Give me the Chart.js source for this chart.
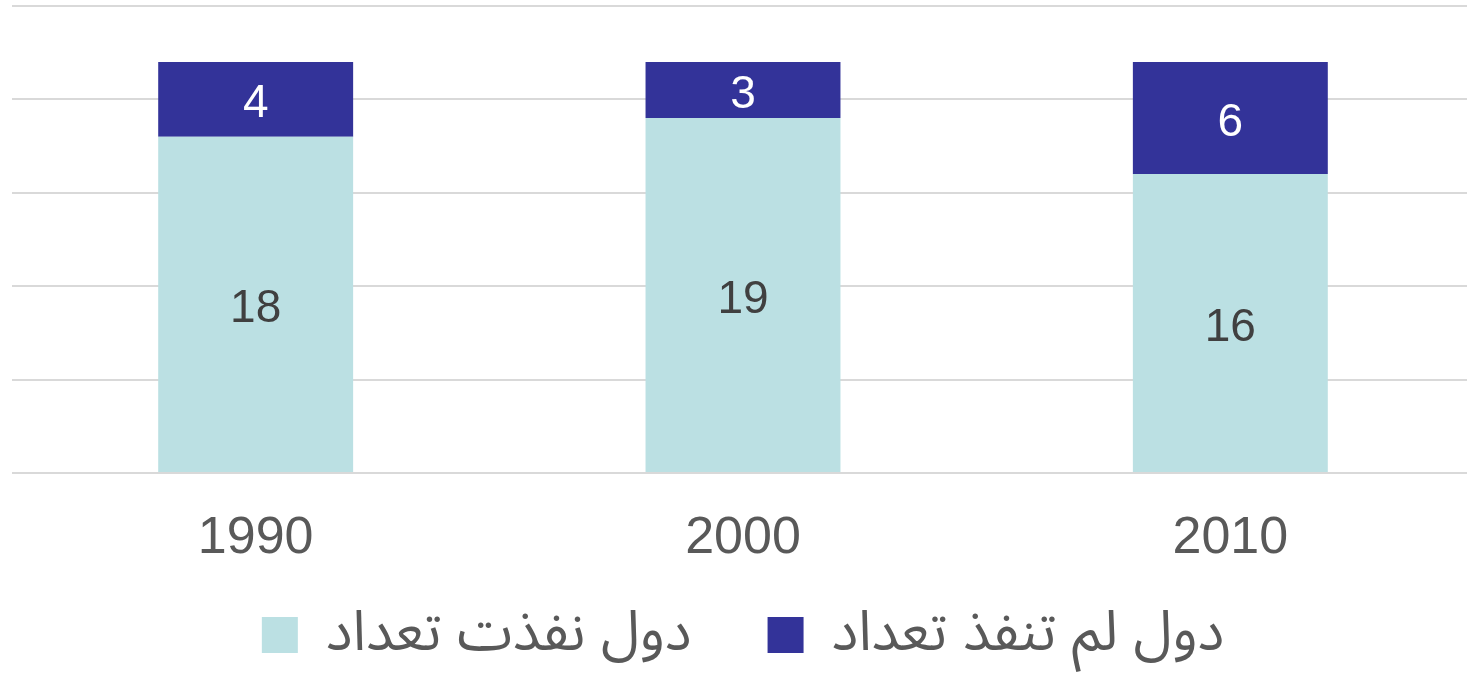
<!DOCTYPE html>
<html lang="ar">
  <head>
    <meta charset="UTF-8" />
    <title>Chart</title>
    <script src="https://cdn.jsdelivr.net/npm/chart.js"></script>
    <style>
      html, body { margin: 0; padding: 0; background: #fff; overflow: hidden; }
      #wrap { width: 1474px; height: 673px; position: relative; }
    </style>
  </head>
  <body>
    <div id="wrap"><canvas id="myChart"></canvas></div>

    <script>
      const years = ["1990", "2000", "2010"];
      const doneCensus = [18, 19, 16];
      const notDoneCensus = [4, 3, 6];
      const seriesNames = ["دول نفذت تعداد", "دول لم تنفذ تعداد"];

      // draws the value in the middle of each bar segment
      const centerLabels = {
        id: "centerLabels",
        afterDatasetsDraw(chart) {
          const ctx = chart.ctx;
          ctx.save();
          ctx.font = "46px 'Liberation Sans', Arial, sans-serif";
          ctx.textAlign = "center";
          ctx.textBaseline = "middle";
          chart.data.datasets.forEach((ds, i) => {
            const meta = chart.getDatasetMeta(i);
            meta.data.forEach((bar, j) => {
              const p = bar.getProps(["x", "y", "base"], true);
              ctx.fillStyle = i === 1 ? "#ffffff" : "#404040";
              ctx.fillText(ds.data[j], p.x, (p.y + p.base) / 2 + 5);
            });
          });
          ctx.restore();
        },
      };

      new Chart(document.getElementById("myChart"), {
        type: "bar",
        data: {
          labels: years,
          datasets: [
            { label: seriesNames[0], data: doneCensus, backgroundColor: "#bbe0e3" },
            { label: seriesNames[1], data: notDoneCensus, backgroundColor: "#333399" },
          ],
        },
        options: {
          responsive: true,
          maintainAspectRatio: false,
          animation: false,
          categoryPercentage: 1,
          barPercentage: 0.4,
          layout: { padding: { left: 12, right: 0, top: 6, bottom: 0 } },
          plugins: {
            tooltip: { enabled: false },
            legend: {
              position: "bottom",
              labels: {
                boxWidth: 36,
                boxHeight: 36,
                padding: 20,
                color: "#595959",
                font: { size: 56, family: "'Liberation Sans', 'Noto Sans Arabic', 'DejaVu Sans', sans-serif" },
                // wider gap after the first item
                generateLabels(chart) {
                  const items = Chart.defaults.plugins.legend.labels.generateLabels(chart);
                  items[0].text += "\u2003";
                  return items;
                },
              },
            },
          },
          scales: {
            x: {
              stacked: true,
              grid: { display: false, drawTicks: false },
              border: { display: false },
              ticks: {
                color: "#595959",
                padding: 34,
                font: { size: 52, family: "'Liberation Sans', Arial, sans-serif" },
              },
              afterFit: (scale) => { scale.height = 114; },
            },
            y: {
              stacked: true,
              min: 0,
              max: 25,
              ticks: { display: false, stepSize: 5 },
              grid: { color: "#d9d9d9", lineWidth: 2, drawTicks: false },
              border: { display: false },
            },
          },
        },
        plugins: [centerLabels],
      });
    </script>
  </body>
</html>
